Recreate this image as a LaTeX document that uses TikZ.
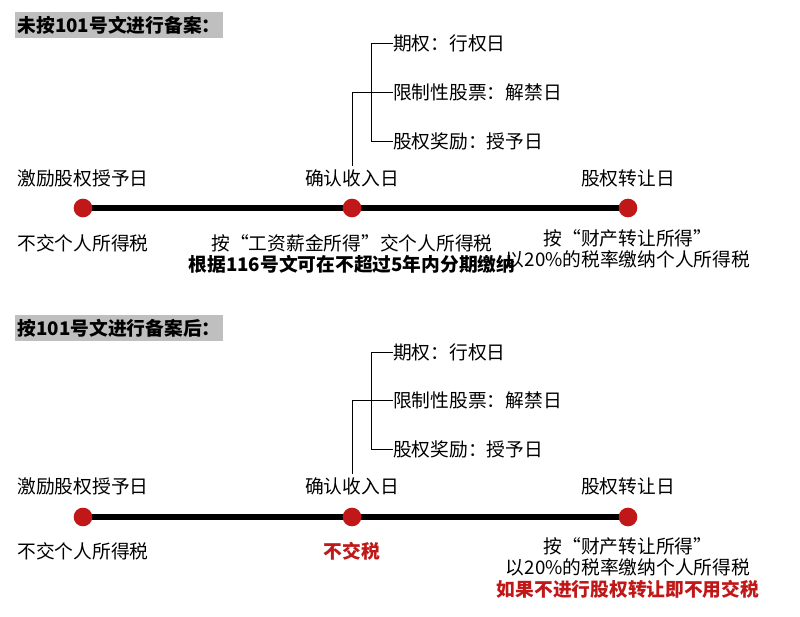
\documentclass[tikz,border=0pt]{standalone}
\usepackage{fontspec}
\setmainfont{Noto Sans CJK SC}
\usetikzlibrary{positioning}
\definecolor{hdrgray}{RGB}{191,191,191}
\definecolor{dotred}{RGB}{192,24,24}
\begin{document}
\begin{tikzpicture}[x=0.03cm,y=-0.03cm,
    txt/.style={inner sep=0pt,font=\fontsize{16}{19}\selectfont},
    btxt/.style={txt,font=\fontsize{16}{19}\selectfont\bfseries},
    hdr/.style={btxt,fill=hdrgray,inner sep=2pt,anchor=west},
    dot/.style={circle,fill=dotred,inner sep=0pt,minimum size=0.56cm},
    tline/.style={line width=5pt},
    brk/.style={line width=0.8pt}]
    \useasboundingbox (0,0) rectangle (800,617);

    %
    % Panneau du haut
    %
    \node[hdr,minimum width=203*0.03cm,minimum height=0.8cm] (h1) at (15,25) {未按101号文进行备案：};

    \coordinate (a1) at (83,208);
    \coordinate (b1) at (352,208);
    \coordinate (c1) at (628,208);
    \draw[tline] (a1) -- (c1);
    \node[dot] (da1) at (a1) {};
    \node[dot] (db1) at (b1) {};
    \node[dot] (dc1) at (c1) {};

    \node[txt] (la1) at (83,178) {激励股权授予日};
    \node[txt] (lb1) at (352,178) {确认收入日};
    \node[txt] (lc1) at (628,178) {股权转让日};

    % Accolade
    \node[txt,anchor=west] (p1) at (393,43) {期权：行权日};
    \node[txt,anchor=west] (q1) at (393,92) {限制性股票：解禁日};
    \node[txt,anchor=west] (r1) at (393,141) {股权奖励：授予日};
    \draw[brk] (p1.west) -- ++(-22,0) |- (r1.west);
    \draw[brk] (q1.west) -| ([yshift=3pt]lb1.north);

    \node[txt] (ta1) at (83,243) {不交个人所得税};
    \node[txt] (tb1) at (352,243) {按“工资薪金所得”交个人所得税};
    \node[btxt,below=3pt of tb1] (ub1) {根据116号文可在不超过5年内分期缴纳};
    \node[txt] (tc1) at (628,238) {按“财产转让所得”};
    \node[txt,below=3pt of tc1] (uc1) {以20\%的税率缴纳个人所得税};

    %
    % Panneau du bas
    %
    \node[hdr,minimum width=190*0.03cm,minimum height=0.8cm] (h2) at (15,328) {按101号文进行备案后：};

    \coordinate (a2) at (83,517);
    \coordinate (b2) at (352,517);
    \coordinate (c2) at (628,517);
    \draw[tline] (a2) -- (c2);
    \node[dot] (da2) at (a2) {};
    \node[dot] (db2) at (b2) {};
    \node[dot] (dc2) at (c2) {};

    \node[txt] (la2) at (83,486) {激励股权授予日};
    \node[txt] (lb2) at (352,486) {确认收入日};
    \node[txt] (lc2) at (628,486) {股权转让日};

    % Accolade
    \node[txt,anchor=west] (p2) at (393,352) {期权：行权日};
    \node[txt,anchor=west] (q2) at (393,400) {限制性股票：解禁日};
    \node[txt,anchor=west] (r2) at (393,449) {股权奖励：授予日};
    \draw[brk] (p2.west) -- ++(-22,0) |- (r2.west);
    \draw[brk] (q2.west) -| ([yshift=3pt]lb2.north);

    \node[txt] (ta2) at (83,551) {不交个人所得税};
    \node[btxt,text=dotred] (tb2) at (352,551) {不交税};
    \node[txt] (tc2) at (628,546) {按“财产转让所得”};
    \node[txt,below=3pt of tc2] (uc2) {以20\%的税率缴纳个人所得税};
    \node[btxt,text=dotred,below=3pt of uc2] (vc2) {如果不进行股权转让即不用交税};
\end{tikzpicture}
\end{document}
